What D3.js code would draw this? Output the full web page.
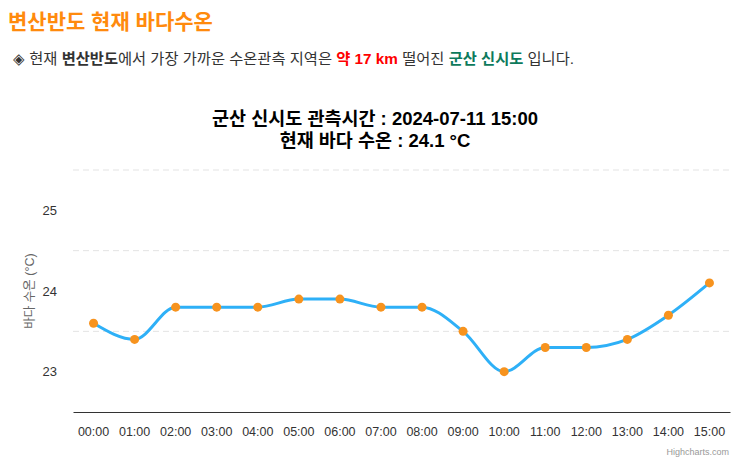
<!DOCTYPE html>
<html>
<head>
<meta charset="utf-8">
<script src="https://cdn.jsdelivr.net/npm/d3@7"></script>
<style>
  body { margin: 0; background: #fff; font-family: "Liberation Sans", Arial, "Noto Sans CJK KR", sans-serif; }
</style>
</head>
<body>
<div id="chart"></div>
<script>
// data
var hours = ["00:00","01:00","02:00","03:00","04:00","05:00","06:00","07:00",
             "08:00","09:00","10:00","11:00","12:00","13:00","14:00","15:00"];
var temps = [23.6, 23.4, 23.8, 23.8, 23.8, 23.9, 23.9, 23.8,
             23.8, 23.5, 23.0, 23.3, 23.3, 23.4, 23.7, 24.1];
var yTicks = [23, 24, 25];
var gridLines = [23.5, 24.5, 25.5];

(function autoexecute() {
  var W = 750, H = 467;
  var margin = {top: 170, right: 20, bottom: 55, left: 73};
  var width = 730 - margin.left,
      height = 412 - margin.top;

  var svg = d3.select("#chart")
    .append("svg")
      .attr("width", W)
      .attr("height", H);

  // page header
  svg.append("text")
    .attr("x", 8)
    .attr("y", 29)
    .attr("font-size", 21)
    .attr("font-weight", "bold")
    .attr("fill", "#ff8a0d")
    .text("변산반도 현재 바다수온");

  var sub = svg.append("text")
    .attr("x", 13)
    .attr("y", 64)
    .attr("font-size", 15.3)
    .attr("fill", "#333");
  sub.append("tspan").text("◈ 현재 ");
  sub.append("tspan").attr("font-weight", "bold").text("변산반도");
  sub.append("tspan").text("에서 가장 가까운 수온관측 지역은 ");
  sub.append("tspan").attr("font-weight", "bold").attr("fill", "#ff0000").text("약 17 km");
  sub.append("tspan").text(" 떨어진 ");
  sub.append("tspan").attr("font-weight", "bold").attr("fill", "#0d7a5c").text("군산 신시도");
  sub.append("tspan").text(" 입니다.");

  // chart title
  svg.append("text")
    .attr("x", 375)
    .attr("y", 125)
    .attr("text-anchor", "middle")
    .attr("font-size", 18.5)
    .attr("font-weight", "bold")
    .attr("fill", "#000")
    .text("군산 신시도 관측시간 : 2024-07-11 15:00");
  svg.append("text")
    .attr("x", 375)
    .attr("y", 147)
    .attr("text-anchor", "middle")
    .attr("font-size", 18.5)
    .attr("font-weight", "bold")
    .attr("fill", "#000")
    .text("현재 바다 수온 : 24.1 °C");

  var g = svg.append("g")
    .attr("transform", "translate(" + margin.left + "," + margin.top + ")");

  var x = d3.scaleBand()
    .domain(hours)
    .range([0, width]);

  var y = d3.scaleLinear()
    .domain([22.5, 25.5])
    .range([height, 0]);

  // dashed grid lines
  g.append("g")
    .selectAll("line")
    .data(gridLines)
    .join("line")
      .attr("x1", 0)
      .attr("x2", width)
      .attr("y1", d => y(d))
      .attr("y2", d => y(d))
      .attr("stroke", "#e3e3e3")
      .attr("stroke-dasharray", "6,4");

  // y axis (labels only)
  var yAxis = g.append("g")
    .call(d3.axisLeft(y).tickValues(yTicks).tickFormat(d3.format("d")).tickSize(0).tickPadding(16));
  yAxis.select(".domain").remove();
  yAxis.selectAll("text")
    .attr("font-size", 13)
    .attr("font-family", "Liberation Sans, Arial, sans-serif")
    .attr("fill", "#333");

  // y axis title
  svg.append("text")
    .attr("transform", "translate(34," + (margin.top + y(24)) + ") rotate(-90)")
    .attr("text-anchor", "middle")
    .attr("font-size", 12.5)
    .attr("fill", "#666")
    .text("바다 수온 (°C)");

  // x axis
  var xAxis = g.append("g")
    .attr("transform", "translate(0," + height + ")")
    .call(d3.axisBottom(x).tickSize(0).tickPadding(15));
  xAxis.select(".domain")
    .attr("stroke", "#333")
    .attr("stroke-width", 1);
  xAxis.selectAll("text")
    .attr("font-size", 12.5)
    .attr("font-family", "Liberation Sans, Arial, sans-serif")
    .attr("fill", "#333");

  var pts = hours.map((h, i) => ({h: h, v: temps[i]}));

  var line = d3.line()
    .x(d => x(d.h) + x.bandwidth() / 2)
    .y(d => y(d.v))
    .curve(d3.curveMonotoneX);

  g.append("path")
    .datum(pts)
    .attr("fill", "none")
    .attr("stroke", "#2eb0f7")
    .attr("stroke-width", 3)
    .attr("d", line);

  g.append("g")
    .selectAll("circle")
    .data(pts)
    .join("circle")
      .attr("cx", d => x(d.h) + x.bandwidth() / 2)
      .attr("cy", d => y(d.v))
      .attr("r", 4.5)
      .attr("fill", "#f7931e");

  // credits
  svg.append("text")
    .attr("x", 729)
    .attr("y", 455)
    .attr("text-anchor", "end")
    .attr("font-size", 9)
    .attr("fill", "#999")
    .text("Highcharts.com");
})();
</script>
</body>
</html>
